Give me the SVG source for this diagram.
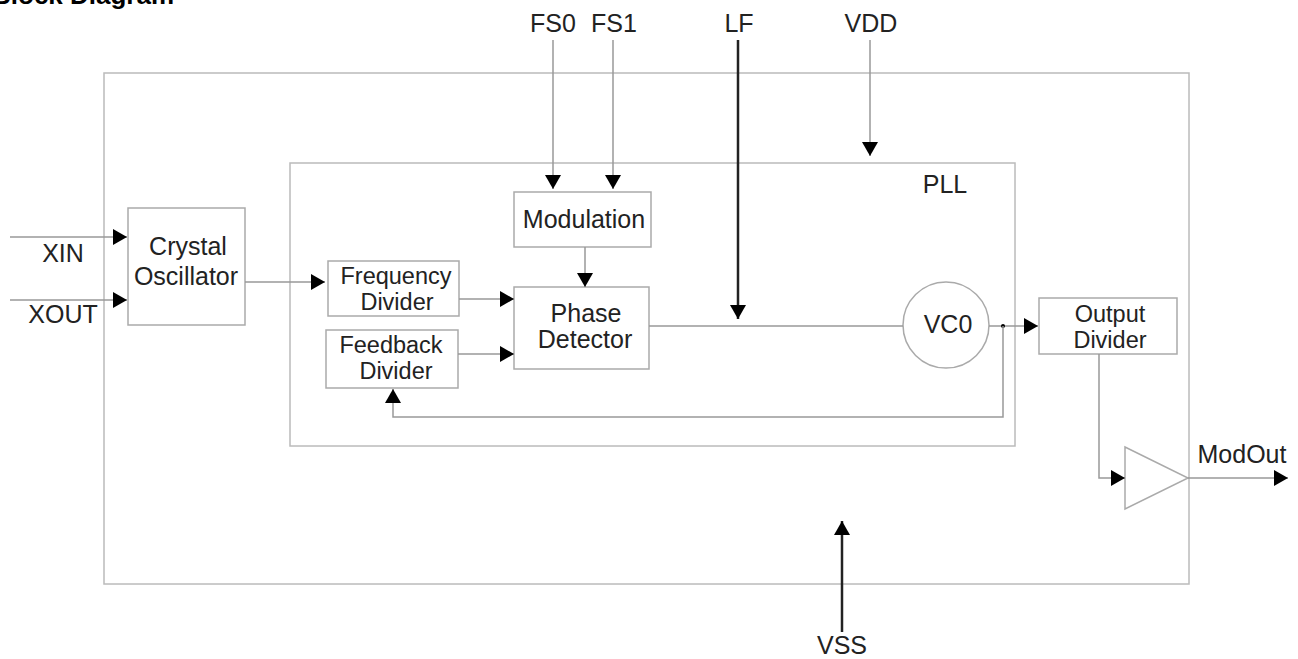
<svg xmlns="http://www.w3.org/2000/svg" width="1298" height="659" viewBox="0 0 1298 659">
<style>
text{font-family:"Liberation Sans",Arial,sans-serif;font-size:25px;fill:#222;text-anchor:middle}
.two{font-size:23.5px}
.title{font-weight:bold;font-size:26px;text-anchor:start;fill:#000}
.box{fill:none;stroke:#aaa;stroke-width:1.5}
.frame{fill:none;stroke:#bbb;stroke-width:1.5}
.wire{fill:none;stroke:#999;stroke-width:1.5}
.thick{fill:none;stroke:#222;stroke-width:2.5}
</style>
<defs>
<marker id="ah" markerUnits="userSpaceOnUse" markerWidth="14" markerHeight="16" refX="14" refY="8" orient="auto">
<path d="M0,0 L14,8 L0,16 z" fill="#000"/>
</marker>
</defs>
<rect width="1298" height="659" fill="#fff"/>
<text class="title" x="-8" y="4">Block Diagram</text>

<g id="chip"><rect class="frame" x="104" y="73" width="1085" height="511"/></g>
<g id="pll"><rect class="frame" x="290" y="163" width="725" height="283"/><text x="945" y="193">PLL</text></g>

<g id="crystal"><rect class="box" x="128" y="208" width="117" height="117"/><text x="188" y="255">Crystal</text><text x="186" y="285">Oscillator</text></g>
<g id="freqdiv"><rect class="box" x="328" y="261" width="131" height="55"/><text class="two" x="396" y="284">Frequency</text><text class="two" x="397" y="310">Divider</text></g>
<g id="fbdiv"><rect class="box" x="326" y="330" width="132" height="58"/><text class="two" x="391" y="353">Feedback</text><text class="two" x="396" y="379">Divider</text></g>
<g id="modulation"><rect class="box" x="514" y="192" width="137" height="55"/><text x="584" y="228">Modulation</text></g>
<g id="phasedet"><rect class="box" x="514" y="287" width="135" height="82"/><text x="586" y="322">Phase</text><text x="585" y="348">Detector</text></g>
<g id="vco"><circle class="box" cx="946" cy="325" r="43"/><text x="948" y="333">VC0</text></g>
<g id="outdiv"><rect class="box" x="1039" y="298" width="138" height="56"/><text class="two" x="1110" y="322">Output</text><text class="two" x="1110" y="348">Divider</text></g>
<g id="buffer"><path class="box" d="M1125,447 L1188,478 L1125,509 z"/></g>

<g id="labels">
<text x="63" y="262">XIN</text>
<text x="63" y="323">XOUT</text>
<text x="553" y="32">FS0</text>
<text x="614" y="32">FS1</text>
<text x="739" y="32">LF</text>
<text x="871" y="32">VDD</text>
<text x="1242" y="463">ModOut</text>
<text x="842" y="654">VSS</text>
</g>

<g id="connectors">
<path class="wire" d="M10,237 H127" marker-end="url(#ah)"/>
<path class="wire" d="M10,300 H127" marker-end="url(#ah)"/>
<path class="wire" d="M245,282 H325" marker-end="url(#ah)"/>
<path class="wire" d="M459,299 H514" marker-end="url(#ah)"/>
<path class="wire" d="M458,354 H514" marker-end="url(#ah)"/>
<path class="wire" d="M553,40 V189" marker-end="url(#ah)"/>
<path class="wire" d="M613,40 V189" marker-end="url(#ah)"/>
<path class="wire" d="M585,247 V287" marker-end="url(#ah)"/>
<path class="wire" d="M870,40 V156" marker-end="url(#ah)"/>
<path class="thick" d="M738,40 V319" marker-end="url(#ah)"/>
<path class="wire" d="M649,326 H903"/>
<path class="wire" d="M989,326 H1038" marker-end="url(#ah)"/>
<circle cx="1003" cy="326" r="2" fill="#000"/>
<path class="wire" d="M1003,326 V417 H393 V389" marker-end="url(#ah)"/>
<path class="wire" d="M1099,354 V478 H1125" marker-end="url(#ah)"/>
<path class="wire" d="M1188,478 H1288" marker-end="url(#ah)"/>
<path class="thick" d="M842,632 V521" marker-end="url(#ah)"/>
</g>
</svg>
